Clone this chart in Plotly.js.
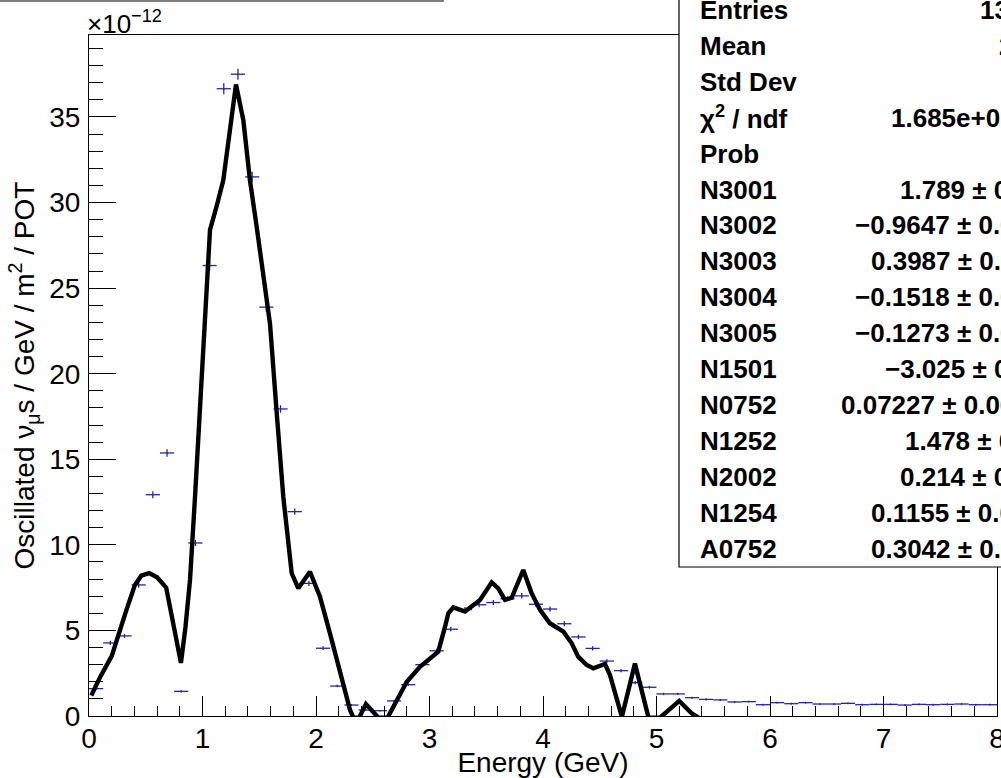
<!DOCTYPE html>
<html><head><meta charset="utf-8">
<script src="https://cdn.plot.ly/plotly-3.0.1.min.js"></script>
<style>html,body{margin:0;padding:0;background:#fff;overflow:hidden;} #chart{width:1001px;height:778px;}</style>
</head><body><div id="chart"></div>
<script>
// ---- data ----
const binLow = 0.0;
const binWidth = 0.125;
const histValues = [1.6, 4.27, 4.68, 7.66, 12.93, 15.37, 1.44, 10.11, 26.32, 36.65, 37.5, 31.5, 23.89, 17.94, 11.94, 7.75,
  3.96, 1.75, 0.64, 0.35, 0.31, 0.88, 1.83, 3.0, 3.81, 5.07, 6.22, 6.5, 6.63, 6.85, 7.02, 6.53,
  6.25, 5.39, 4.62, 3.95, 3.21, 2.65, 1.95, 1.68, 1.29, 1.29, 1.07, 0.97, 0.94, 0.82, 0.84, 0.66,
  0.78, 0.72, 0.78, 0.70, 0.70, 0.74, 0.66, 0.68, 0.68, 0.64, 0.68, 0.66, 0.68, 0.70, 0.66, 0.66];
const histErrors = [0.08, 0.12, 0.12, 0.16, 0.2, 0.22, 0.07, 0.18, 0.28, 0.32, 0.32, 0.3, 0.26, 0.22, 0.18, 0.15,
  0.11, 0.07, 0.05, 0.04, 0.04, 0.06, 0.08, 0.1, 0.12, 0.14, 0.15, 0.15, 0.15, 0.15, 0.16, 0.15,
  0.15, 0.14, 0.13, 0.12, 0.11, 0.1, 0.09, 0.08, 0.07, 0.07, 0.06, 0.06, 0.06, 0.05, 0.05, 0.05,
  0.05, 0.05, 0.05, 0.05, 0.05, 0.05, 0.05, 0.05, 0.05, 0.05, 0.05, 0.05, 0.05, 0.05, 0.05, 0.05];
const fitEnergy = [0.02, 0.1, 0.2, 0.26, 0.33, 0.405, 0.46, 0.53, 0.6, 0.68, 0.74, 0.81, 0.85, 0.89, 0.934, 0.978,
  1.022, 1.066, 1.125, 1.183, 1.242, 1.295, 1.36, 1.418, 1.477, 1.536, 1.595, 1.654, 1.712, 1.786, 1.844, 1.947,
  2.035, 2.123, 2.211, 2.3, 2.33, 2.38, 2.44, 2.5, 2.55, 2.63, 2.71, 2.8, 2.916, 3.03, 3.077, 3.137,
  3.166, 3.21, 3.313, 3.445, 3.548, 3.606, 3.665, 3.724, 3.826, 3.9, 3.974, 4.06, 4.18, 4.253, 4.31, 4.385,
  4.443, 4.546, 4.59, 4.695, 4.81, 4.93, 5.03, 5.2, 5.31, 5.37];
const fitValues = [1.2, 2.3, 3.5, 4.8, 6.2, 7.66, 8.2, 8.35, 8.1, 7.5, 5.6, 3.1, 5.2, 7.95, 12.8, 17.7,
  22.8, 28.4, 29.8, 31.3, 34.25, 36.9, 34.8, 31.3, 28.6, 25.9, 22.9, 17.7, 12.8, 8.34, 7.46, 8.43,
  6.97, 4.83, 2.69, 0.35, -0.1, -0.1, 0.7, 0.3, -0.1, -0.1, 0.84, 2.0, 2.88, 3.56, 3.76, 5.22,
  6.0, 6.35, 6.1, 6.78, 7.81, 7.46, 6.78, 6.91, 8.53, 7.17, 6.2, 5.42, 4.93, 4.25, 3.47, 2.98,
  2.79, 3.04, 2.4, -0.05, 3.06, -0.1, -0.1, 0.88, 0.16, -0.1];
const statLabels = ["Entries", "Mean", "Std Dev", "χ<sup>2</sup> / ndf", "Prob", "N3001", "N3002", "N3003", "N3004",
  "N3005", "N1501", "N0752", "N1252", "N2002", "N1254", "A0752"];
const statValues = ["1300000", "2.448", "1.562", "1.685e+05 / 55", "0", "1.789 ± 0.012", "−0.9647 ± 0.0093",
  "0.3987 ± 0.0071", "−0.1518 ± 0.0054", "−0.1273 ± 0.0049", "−3.025 ± 0.021", "0.07227 ± 0.00081",
  "1.478 ± 0.011", "0.214 ± 0.003", "0.1155 ± 0.0021", "0.3042 ± 0.0037"];

// ---- layout helpers (pixel -> paper) ----
const W = 1001, H = 778;
const L = 89, R = 997, T = 35, B = 716;
const px = x => (x - L) / (R - L);
const py = y => (B - y) / (B - T);
const valueStartX = [979.7, 998.5, 1006, 891.3, 1010, 899.7, 854.7, 871.3, 854.7, 854.7, 884.7, 841.3, 904.7, 899.7, 870.7, 870.7];

const centers = histValues.map((_, i) => binLow + binWidth * (i + 0.5));
const blue = '#2424a8';
const font = 'Liberation Sans, Arial, Helvetica, sans-serif';

const traces = [
  {
    type: 'scatter', mode: 'markers', x: centers, y: histValues,
    marker: {size: 1, color: blue},
    error_x: {type: 'constant', value: binWidth / 2, width: 0, thickness: 1.3, color: blue},
    error_y: {type: 'data', array: histErrors, width: 0, thickness: 1.3, color: blue},
    showlegend: false, hoverinfo: 'skip'
  },
  {
    type: 'scatter', mode: 'lines', x: fitEnergy, y: fitValues,
    line: {color: '#000', width: 4.4},
    showlegend: false, hoverinfo: 'skip'
  }
];

const annotations = [];
const rowY0 = 10, rowStep = 35.9;
statLabels.forEach((lab, i) => {
  annotations.push({xref: 'paper', yref: 'paper', x: px(698), y: py(rowY0 + rowStep * i), xanchor: 'left', yanchor: 'middle',
    text: lab, showarrow: false, font: {family: font, size: 26, color: '#000', weight: 'bold'}});
  annotations.push({xref: 'paper', yref: 'paper', x: px(valueStartX[i] - 2), y: py(rowY0 + rowStep * i), xanchor: 'left', yanchor: 'middle',
    text: statValues[i], showarrow: false, font: {family: font, size: 26, color: '#000', weight: 'bold'}});
});
annotations.push({xref: 'paper', yref: 'paper', x: px(85), y: py(41), xanchor: 'left', yanchor: 'bottom',
  text: '×10<sup>−12</sup>', showarrow: false, font: {family: font, size: 26, color: '#000'}});

const layout = {
  width: W, height: H,
  margin: {l: L, r: W - R, t: T, b: H - B, pad: 0},
  paper_bgcolor: '#fff', plot_bgcolor: '#fff',
  font: {family: font, color: '#000'},
  xaxis: {
    range: [0, 8], dtick: 1, tick0: 0, ticks: 'inside', ticklen: 20, tickwidth: 1, tickcolor: '#000',
    minor: {dtick: 0.2, ticks: 'inside', ticklen: 10, tickwidth: 1, tickcolor: '#000'},
    showline: true, linecolor: '#000', linewidth: 1, mirror: true, showgrid: false, zeroline: false,
    tickfont: {family: font, size: 28}, ticklabelstandoff: -3, ticklabeloverflow: 'allow',
    title: {text: 'Energy (GeV)', font: {family: font, size: 28}, standoff: 4}
  },
  yaxis: {
    range: [0, 39.79], dtick: 5, tick0: 0, ticks: 'inside', ticklen: 27, tickwidth: 1, tickcolor: '#000',
    minor: {dtick: 1, ticks: 'inside', ticklen: 13.5, tickwidth: 1, tickcolor: '#000'},
    showline: true, linecolor: '#000', linewidth: 1, mirror: true, showgrid: false, zeroline: false,
    tickfont: {family: font, size: 28}, ticklabelstandoff: 2, ticklabeloverflow: 'allow',
    title: {text: 'Oscillated ν<sub>μ</sub>s / GeV / m<sup>2</sup> / POT', font: {family: font, size: 28}, standoff: 6}
  },
  shapes: [
    {type: 'rect', xref: 'paper', yref: 'paper', x0: px(679), x1: px(1060), y0: py(567), y1: py(-40),
      fillcolor: '#fff', line: {color: '#000', width: 1.2}, layer: 'above'},
    {type: 'rect', xref: 'paper', yref: 'paper', x0: px(-20), x1: px(443), y0: py(1), y1: py(-40),
      fillcolor: '#fff', line: {color: '#555', width: 1.5}, layer: 'above'}
  ],
  annotations: annotations
};

Plotly.newPlot('chart', traces, layout, {staticPlot: true, displayModeBar: false});
</script>
</body></html>
